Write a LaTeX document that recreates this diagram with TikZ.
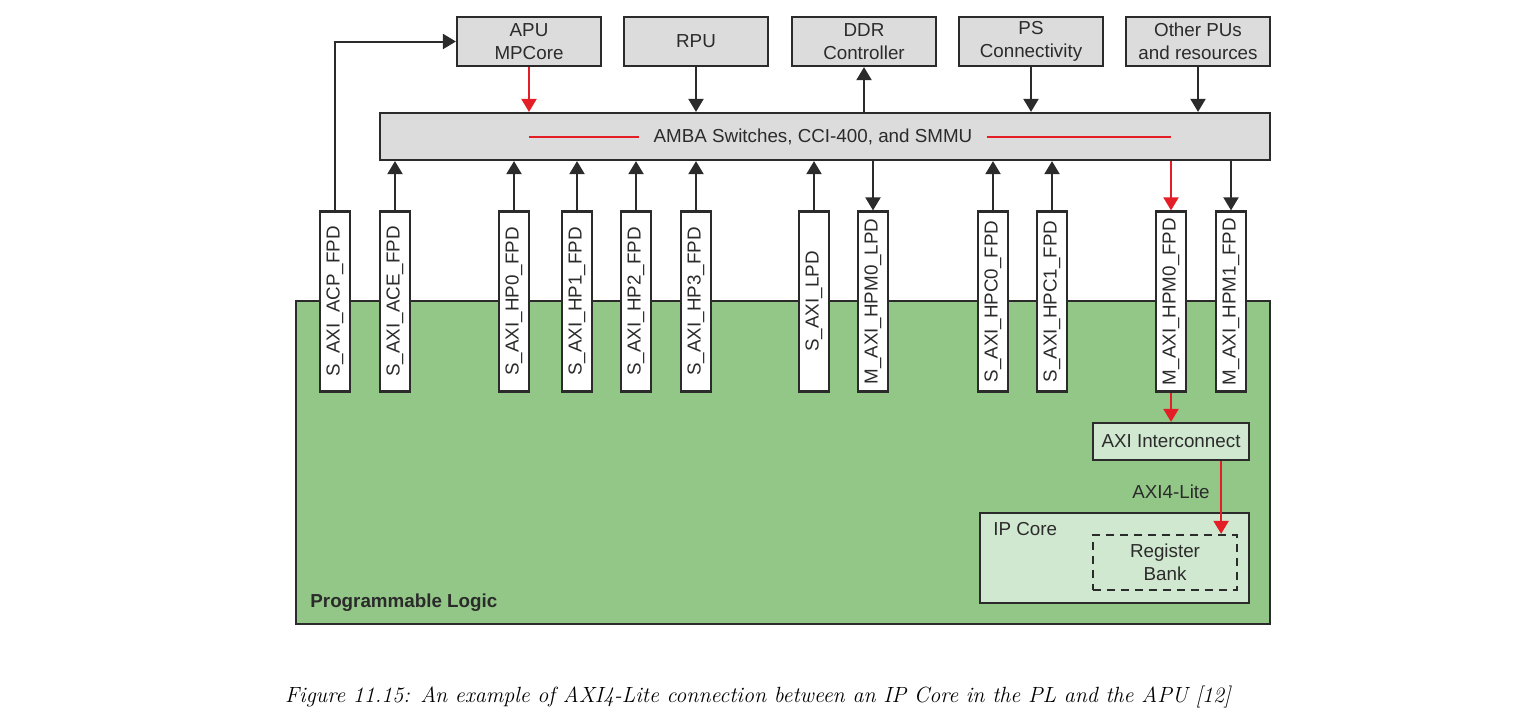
\documentclass[tikz,border=0pt]{standalone}
\usepackage{fontspec}
\setsansfont{Liberation Sans}
\usetikzlibrary{arrows.meta}

\definecolor{gris}{RGB}{220,220,220}
\definecolor{verde}{RGB}{147,199,135}
\definecolor{verdeclaro}{RGB}{208,232,208}
\definecolor{rojo}{RGB}{228,30,38}
\definecolor{trazo}{RGB}{43,43,43}

\begin{document}
\begin{tikzpicture}[x=0.5pt,y=-0.5pt,
        font=\sffamily\fontsize{9.4}{11.5}\selectfont, text=trazo,
        caja/.style={draw=trazo, line width=1.1pt, fill=gris, minimum width=72pt,
            minimum height=24.5pt, align=center, inner sep=0pt},
        puerto/.style={draw=trazo, line width=1.1pt, fill=white, rotate=90,
            minimum width=90pt, minimum height=15pt, inner sep=0pt},
        flecha/.style={draw=trazo, line width=1pt, -{Triangle[length=6.5pt,width=7.5pt]}},
        roja/.style={draw=rojo, fill=rojo}]

        % Marco de la figura.
        \useasboundingbox (0,0) rectangle (1517,723);

        % Bloques del PS.
        \node[caja] (apu) at (529,41.5) {APU\\MPCore};
        \node[caja] (rpu) at (696,41.5) {RPU};
        \node[caja] (ddr) at (864,41.5) {DDR\\Controller};
        \node[caja] (ps) at (1031,41.5) {PS\\Connectivity};
        \node[caja] (otros) at (1198,41.5) {Other PUs\\and resources};

        % Interconexion AMBA.
        \node[caja, minimum width=445pt, minimum height=23.5pt] (amba) at (825,136.5) {};
        \node[inner xsep=7pt] (ambatxt) at (813,137) {AMBA Switches, CCI-400, and SMMU};

        % Logica programable.
        \node[draw=trazo, line width=1.1pt, fill=verde, minimum width=487pt,
            minimum height=161.5pt] (pl) at (783,462.5) {};
        \node[anchor=west, font=\sffamily\bfseries\fontsize{9.4}{11.5}\selectfont,
            inner sep=0pt] (pltxt) at (310,603) {Programmable Logic};

        % Puertos entre PS y PL.
        \node[puerto] (acp) at (335,301.5) {S\_AXI\_ACP\_FPD};
        \node[puerto] (ace) at (395,301.5) {S\_AXI\_ACE\_FPD};
        \node[puerto] (hp0) at (514,301.5) {S\_AXI\_HP0\_FPD};
        \node[puerto] (hp1) at (577,301.5) {S\_AXI\_HP1\_FPD};
        \node[puerto] (hp2) at (636,301.5) {S\_AXI\_HP2\_FPD};
        \node[puerto] (hp3) at (696,301.5) {S\_AXI\_HP3\_FPD};
        \node[puerto] (lpd) at (814,301.5) {S\_AXI\_LPD};
        \node[puerto] (hpml) at (873,301.5) {M\_AXI\_HPM0\_LPD};
        \node[puerto] (hpc0) at (993,301.5) {S\_AXI\_HPC0\_FPD};
        \node[puerto] (hpc1) at (1052,301.5) {S\_AXI\_HPC1\_FPD};
        \node[puerto] (hpmf0) at (1171,301.5) {M\_AXI\_HPM0\_FPD};
        \node[puerto] (hpmf1) at (1231,301.5) {M\_AXI\_HPM1\_FPD};

        % Bloques dentro de la PL.
        \node[caja, fill=verdeclaro, minimum width=78pt, minimum height=18.5pt] (axi)
            at (1171,441.5) {AXI Interconnect};
        \node[caja, fill=verdeclaro, minimum width=134.5pt, minimum height=45pt] (ip)
            at (1114.5,558) {};
        \node[anchor=west, inner sep=0pt] (iptxt) at (993,529) {IP Core};
        \node[draw=trazo, line width=1.1pt, dash pattern=on 4pt off 3pt, align=center,
            minimum width=72pt, minimum height=27.5pt, inner sep=0pt] (rb)
            at (1165,562.5) {Register\\Bank};
        \coordinate (rbin) at ([xshift=-8.5pt]rb.north east);
        \node (lite) at (1171,492) {AXI4-Lite};

        % Conexiones del PS.
        \draw[flecha, roja] (apu) -- (apu |- amba.north);
        \draw[flecha] (rpu) -- (rpu |- amba.north);
        \draw[flecha] (ddr |- amba.north) -- (ddr);
        \draw[flecha] (ps) -- (ps |- amba.north);
        \draw[flecha] (otros) -- (otros |- amba.north);

        % Camino rojo dentro de la interconexion.
        \draw[rojo, line width=1pt] (apu |- ambatxt) -- (ambatxt);
        \draw[rojo, line width=1pt] (ambatxt) -- (hpmf0 |- ambatxt);

        % Conexiones de los puertos.
        \draw[flecha] (acp) |- (apu);
        \draw[flecha] (ace) -- (ace |- amba.south);
        \draw[flecha] (hp0) -- (hp0 |- amba.south);
        \draw[flecha] (hp1) -- (hp1 |- amba.south);
        \draw[flecha] (hp2) -- (hp2 |- amba.south);
        \draw[flecha] (hp3) -- (hp3 |- amba.south);
        \draw[flecha] (lpd) -- (lpd |- amba.south);
        \draw[flecha] (hpml |- amba.south) -- (hpml);
        \draw[flecha] (hpc0) -- (hpc0 |- amba.south);
        \draw[flecha] (hpc1) -- (hpc1 |- amba.south);
        \draw[flecha, roja] (hpmf0 |- amba.south) -- (hpmf0);
        \draw[flecha] (hpmf1 |- amba.south) -- (hpmf1);

        % Camino AXI4-Lite hasta el IP Core.
        \draw[flecha, roja] (hpmf0) -- (hpmf0 |- axi.north);
        \draw[flecha, roja] (axi.south -| rbin) -- (rbin);

        % Pie de figura.
        \node[font=\rmfamily\itshape\fontsize{11}{13}\selectfont, text=black] (pie)
            at (758,697) {Figure 11.15: An example of AXI4-Lite connection between an IP Core in the PL and the APU [12]};
    \end{tikzpicture}
\end{document}
